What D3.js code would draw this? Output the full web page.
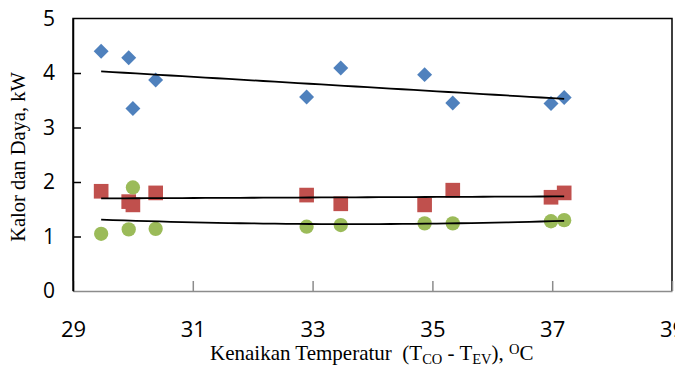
<!DOCTYPE html>
<html>
<head>
<meta charset="utf-8">
<script src="https://cdn.jsdelivr.net/npm/d3@7/dist/d3.min.js"></script>
<style>
html, body { margin: 0; padding: 0; background: #fff; }
svg { display: block; }
</style>
</head>
<body>
<svg id="chart" width="675" height="370"></svg>
<script>
// ---- data ----
const xValues     = [29.47, 29.93, 30.0, 30.38, 32.9, 33.47, 34.87, 35.34, 36.98, 37.2];
const kalorValues = [4.40, 4.28, 3.35, 3.87, 3.56, 4.09, 3.97, 3.45, 3.44, 3.55];
const dayaValues  = [1.83, 1.64, 1.58, 1.80, 1.76, 1.60, 1.58, 1.85, 1.72, 1.80];
const cpValues    = [1.05, 1.13, 1.90, 1.14, 1.18, 1.21, 1.24, 1.24, 1.28, 1.30];
const xTicks = [29, 31, 33, 35, 37, 39];
const yTicks = [0, 1, 2, 3, 4, 5];

const svg = d3.select("#chart");
const W = 675, H = 370;
const L = 73, R = 672, T = 18.5, B = 291;

const x = d3.scaleLinear().domain([29, 39]).range([L, R]);
const y = d3.scaleLinear().domain([0, 5]).range([B, T]);

svg.append("rect").attr("width", W).attr("height", H).attr("fill", "#fff");

// plot frame (top, right, left black)
svg.append("path")
  .attr("d", `M${L},${B} V${T} H${R} V${B}`)
  .attr("fill", "none").attr("stroke", "#000").attr("stroke-width", 1.5);

// x axis (gray, ticks inward)
const xAxis = d3.axisBottom(x).tickValues(xTicks).tickSizeInner(-10).tickSizeOuter(0).tickPadding(30);
const gx = svg.append("g").attr("transform", `translate(0,${B})`).call(xAxis);
gx.select(".domain").attr("stroke", "#8c8c8c").attr("stroke-width", 1.5);
gx.selectAll(".tick line").attr("stroke", "#8c8c8c").attr("stroke-width", 1.5);
gx.selectAll(".tick text")
  .attr("font-family", "'Open Sans', 'Noto Sans', sans-serif")
  .attr("font-size", 22).attr("fill", "#000");

// y axis (black, ticks inward)
const yAxis = d3.axisLeft(y).tickValues(yTicks).tickFormat(d3.format("d"))
  .tickSizeInner(-8).tickSizeOuter(0).tickPadding(18);
const gy = svg.append("g").attr("transform", `translate(${L},0)`).call(yAxis);
gy.select(".domain").attr("stroke", "#000").attr("stroke-width", 1.5);
gy.selectAll(".tick line").attr("stroke", "#000").attr("stroke-width", 1.5)
  .filter(d => d === 0 || d === 5).remove();
gy.selectAll(".tick text")
  .attr("font-family", "'Open Sans', 'Noto Sans', sans-serif")
  .attr("font-size", 21).attr("fill", "#000");

// quadratic least squares fit
function quadFit(xs, ys) {
  const n = xs.length;
  const xm = d3.mean(xs);
  let S = [[0,0,0],[0,0,0],[0,0,0]], v = [0,0,0];
  for (let i = 0; i < n; i++) {
    const t = xs[i] - xm;
    const p = [1, t, t*t];
    for (let a = 0; a < 3; a++) {
      v[a] += p[a] * ys[i];
      for (let b = 0; b < 3; b++) S[a][b] += p[a] * p[b];
    }
  }
  const M = S.map((r, i) => r.concat([v[i]]));
  for (let c = 0; c < 3; c++) {
    let piv = c;
    for (let r = c+1; r < 3; r++) if (Math.abs(M[r][c]) > Math.abs(M[piv][c])) piv = r;
    [M[c], M[piv]] = [M[piv], M[c]];
    for (let r = 0; r < 3; r++) {
      if (r === c) continue;
      const f = M[r][c] / M[c][c];
      for (let k = c; k < 4; k++) M[r][k] -= f * M[c][k];
    }
  }
  const co = [M[0][3]/M[0][0], M[1][3]/M[1][1], M[2][3]/M[2][2]];
  return xx => { const t = xx - xm; return co[0] + co[1]*t + co[2]*t*t; };
}
function linFit(xs, ys) {
  const xm = d3.mean(xs), ym = d3.mean(ys);
  const slope = d3.sum(xs, (xv, i) => (xv - xm) * (ys[i] - ym)) / d3.sum(xs, xv => (xv - xm) ** 2);
  return xx => ym + slope * (xx - xm);
}

const seriesList = [
  { values: kalorValues, color: "#4F81BD", symbol: d3.symbolSquare, size: 112, rot: 45, deg: 1 },
  { values: dayaValues,  color: "#C0504D", symbol: d3.symbolSquare, size: 215, rot: 0,  deg: 1 },
  { values: cpValues,    color: "#9BBB59", symbol: d3.symbolCircle, size: 160, rot: 0,  deg: 2 }
];

const xMin = d3.min(xValues), xMax = d3.max(xValues);
const line = d3.line().x(d => x(d[0])).y(d => y(d[1]));

seriesList.forEach(s => {
  svg.append("g").selectAll("path")
    .data(xValues.map((xv, i) => [xv, s.values[i]]))
    .join("path")
    .attr("d", d3.symbol().type(s.symbol).size(s.size))
    .attr("transform", d => `translate(${x(d[0])},${y(d[1])}) rotate(${s.rot})`)
    .attr("fill", s.color);
});

seriesList.forEach(s => {
  const f = s.deg === 1 ? linFit(xValues, s.values) : quadFit(xValues, s.values);
  const pts = d3.range(0, 41).map(k => { const xx = xMin + (xMax - xMin) * k / 40; return [xx, f(xx)]; });
  svg.append("path").datum(pts).attr("d", line)
    .attr("fill", "none").attr("stroke", "#000").attr("stroke-width", 1.8);
});

// axis titles
svg.append("text")
  .attr("transform", `translate(25,157) rotate(-90)`)
  .attr("text-anchor", "middle")
  .attr("font-family", "'Liberation Serif', 'Times New Roman', serif")
  .attr("font-size", 20.5).attr("fill", "#000")
  .text("Kalor dan Daya, kW");

const xt = svg.append("text")
  .attr("x", 210).attr("y", 360)
  .attr("font-family", "'Liberation Serif', 'Times New Roman', serif")
  .attr("font-size", 21).attr("fill", "#000")
  .style("white-space", "pre");
xt.append("tspan").text("Kenaikan Temperatur  (T");
xt.append("tspan").attr("font-size", 14.5).attr("dy", 4).text("CO");
xt.append("tspan").attr("dy", -4).text(" - T");
xt.append("tspan").attr("font-size", 14.5).attr("dy", 4).text("EV");
xt.append("tspan").attr("dy", -4).text("), ");
xt.append("tspan").attr("font-size", 14.5).attr("dy", -6).text("O");
xt.append("tspan").attr("dy", 6).text("C");
</script>
</body>
</html>
